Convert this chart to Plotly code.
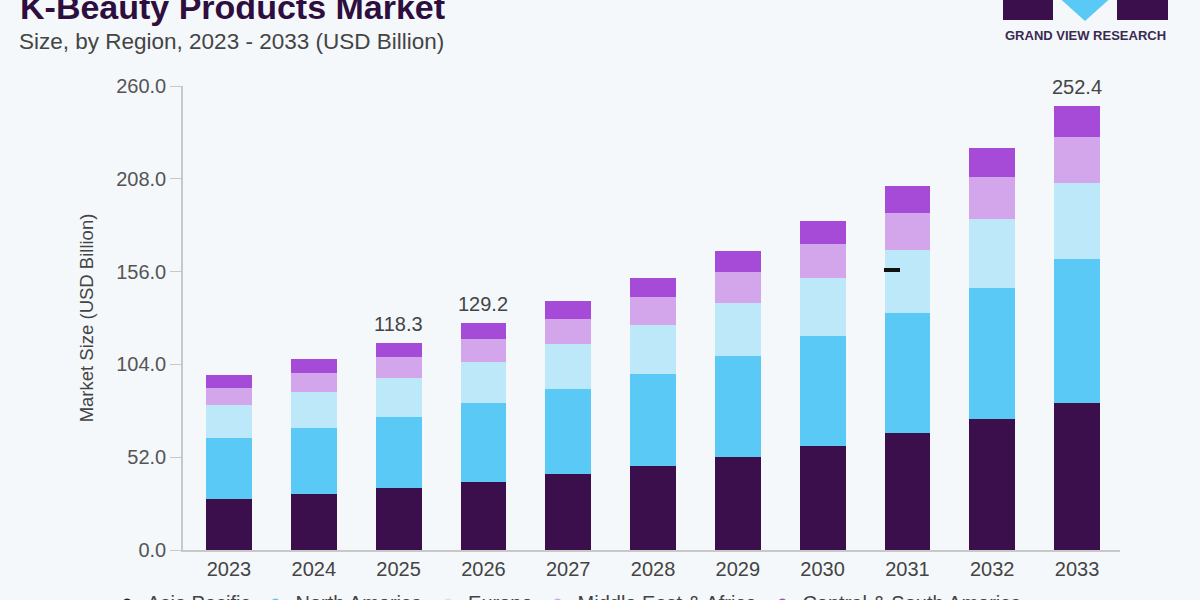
import plotly.graph_objects as go

years = ["2023", "2024", "2025", "2026", "2027", "2028", "2029", "2030", "2031", "2032", "2033"]
asia_pacific = [28.4, 31.5, 34.9, 38.3, 42.6, 47.2, 52.3, 58.4, 65.4, 73.2, 82.2]
north_america = [34.5, 37.0, 39.8, 43.9, 47.6, 51.4, 56.6, 61.6, 67.2, 73.7, 80.8]
europe = [18.5, 20.0, 21.8, 23.3, 25.2, 27.5, 29.7, 32.5, 35.5, 38.5, 42.4]
middle_east_africa = [9.5, 10.5, 11.4, 12.5, 13.8, 15.5, 17.0, 18.9, 20.9, 23.4, 25.8]
central_south_america = [7.1, 7.8, 8.2, 9.3, 10.3, 11.0, 12.1, 13.1, 15.0, 16.2, 17.5]
label_years = ["2025", "2026", "2033"]
label_texts = ["118.3", "129.2", "252.4"]
y_ticks = [0, 52, 104, 156, 208, 260]

series = [
    ("Asia Pacific", asia_pacific, "#3a0f4b"),
    ("North America", north_america, "#5bc9f5"),
    ("Europe", europe, "#bde8fa"),
    ("Middle East & Africa", middle_east_africa, "#d3a6ec"),
    ("Central & South America", central_south_america, "#a64bd8"),
]

fig = go.Figure()
for name, vals, col in series:
    fig.add_trace(go.Bar(x=years, y=vals, name=name, showlegend=False,
                         marker=dict(color=col, line=dict(width=0))))
# legend entries with round dots
for name, vals, col in series:
    fig.add_trace(go.Scatter(x=[None], y=[None], mode="markers", name=name,
                             marker=dict(color=col, size=8, symbol="circle")))

totals = [sum(v) for v in zip(*[s[1] for s in series])]
for yr, txt in zip(label_years, label_texts):
    i = years.index(yr)
    fig.add_annotation(x=i, y=totals[i], text=txt, showarrow=False,
                       yanchor="bottom", yshift=6,
                       font=dict(size=20, color="#444444", family="Liberation Sans"))

bg = "#f4f8fb"
fig.update_layout(
    barmode="stack",
    bargap=0.46,
    width=1200, height=600,
    paper_bgcolor=bg, plot_bgcolor=bg,
    margin=dict(l=183, r=80, t=86, b=50, autoexpand=False),
    font=dict(family="Liberation Sans", color="#444444"),
    showlegend=True,
    legend=dict(orientation="h", x=-0.081, y=-0.071, xanchor="left", yanchor="top",
                font=dict(size=20, color="#444444"), traceorder="normal",
                bgcolor="rgba(0,0,0,0)", itemwidth=30),
    xaxis=dict(type="category", range=[-0.5425, 10.507],
               showline=True, linecolor="#c8c8c8", linewidth=1.5, ticks="",
               tickfont=dict(size=20, color="#444444"), showgrid=False),
    yaxis=dict(range=[0, 260], tickvals=y_ticks, tickformat=".1f",
               showline=True, linecolor="#c8c8c8", linewidth=1.5,
               ticks="outside", ticklen=11, tickcolor="#c8c8c8",
               tickfont=dict(size=20, color="#555555"), showgrid=False, zeroline=False,
               title=dict(text="Market Size (USD Billion)", font=dict(size=18.5, color="#444444"),
                          standoff=18)),
)

def px_x(p):
    return (p - 183) / 937

def px_y(p):
    return (550 - p) / 464

# Title and subtitle
fig.add_annotation(xref="paper", yref="paper", x=px_x(18), y=px_y(7),
                   xanchor="left", yanchor="middle", showarrow=False,
                   text="<b>K-Beauty Products Market</b>",
                   font=dict(size=34, color="#2e0d3f", family="Liberation Sans"))
fig.add_annotation(xref="paper", yref="paper", x=px_x(17), y=px_y(42),
                   xanchor="left", yanchor="middle", showarrow=False,
                   text="Size, by Region, 2023 - 2033 (USD Billion)",
                   font=dict(size=22.5, color="#444444", family="Liberation Sans"))

# Logo
fig.add_shape(type="rect", xref="paper", yref="paper", x0=px_x(1003), x1=px_x(1053),
              y0=px_y(20), y1=px_y(-5), fillcolor="#3a0f4b", line=dict(width=0))
fig.add_shape(type="rect", xref="paper", yref="paper", x0=px_x(1117), x1=px_x(1168),
              y0=px_y(20), y1=px_y(-5), fillcolor="#3a0f4b", line=dict(width=0))
fig.add_shape(type="path", xref="paper", yref="paper",
              path=f"M {px_x(1056)},{px_y(-5)} L {px_x(1114)},{px_y(-5)} L {px_x(1085)},{px_y(21)} Z",
              fillcolor="#5bc9f5", line=dict(width=0))
fig.add_annotation(xref="paper", yref="paper", x=px_x(1085.5), y=px_y(36),
                   xanchor="center", yanchor="middle", showarrow=False,
                   text="<b>GRAND VIEW RESEARCH</b>",
                   font=dict(size=13, color="#3b2a50", family="Liberation Sans"))

# small dark mark on 2031 bar
fig.add_shape(type="line", xref="paper", yref="paper", x0=px_x(884), x1=px_x(900),
              y0=px_y(270), y1=px_y(270), line=dict(color="#111111", width=4))

fig.write_html("out.html")
